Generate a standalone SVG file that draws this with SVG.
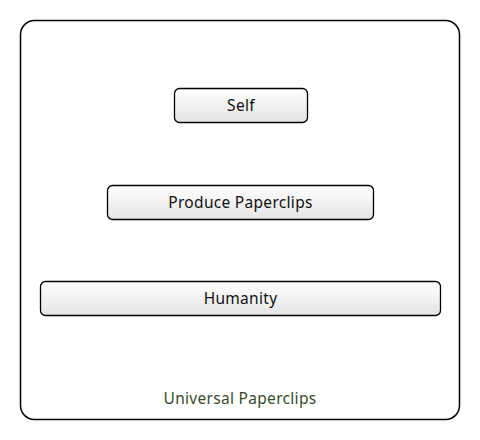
<svg xmlns="http://www.w3.org/2000/svg" width="480" height="440" viewBox="0 0 480 440">
<defs>
<linearGradient id="g" x1="0" y1="0" x2="0" y2="1">
<stop offset="0" stop-color="#ffffff"/>
<stop offset="1" stop-color="#e4e4e4"/>
</linearGradient>
<style>
.n{fill:url(#g);stroke:#000;stroke-width:1.3}
.t{font-family:"Noto Sans",sans-serif;font-size:15.5px;letter-spacing:0.3px;fill:#111;text-anchor:middle}
.c{fill:#fff;stroke:#000;stroke-width:1.5}
.l{font-family:"Noto Sans",sans-serif;font-size:15.5px;letter-spacing:0.3px;fill:#3a4a2e;text-anchor:middle}
</style>
</defs>
<g id="cluster">
<rect class="c" x="20.5" y="20.5" width="439" height="399" rx="14"/>
<text class="l" x="240" y="404">Universal Paperclips</text>
</g>
<g id="connectors"></g>
<g id="self">
<rect class="n" x="174.5" y="88.5" width="133" height="34" rx="5"/>
<text class="t" x="241" y="111">Self</text>
</g>
<g id="produce">
<rect class="n" x="107.5" y="185.5" width="266" height="34" rx="5"/>
<text class="t" x="240.5" y="208">Produce Paperclips</text>
</g>
<g id="humanity">
<rect class="n" x="40.5" y="281.5" width="400" height="34" rx="5"/>
<text class="t" x="240.5" y="304">Humanity</text>
</g>
</svg>
